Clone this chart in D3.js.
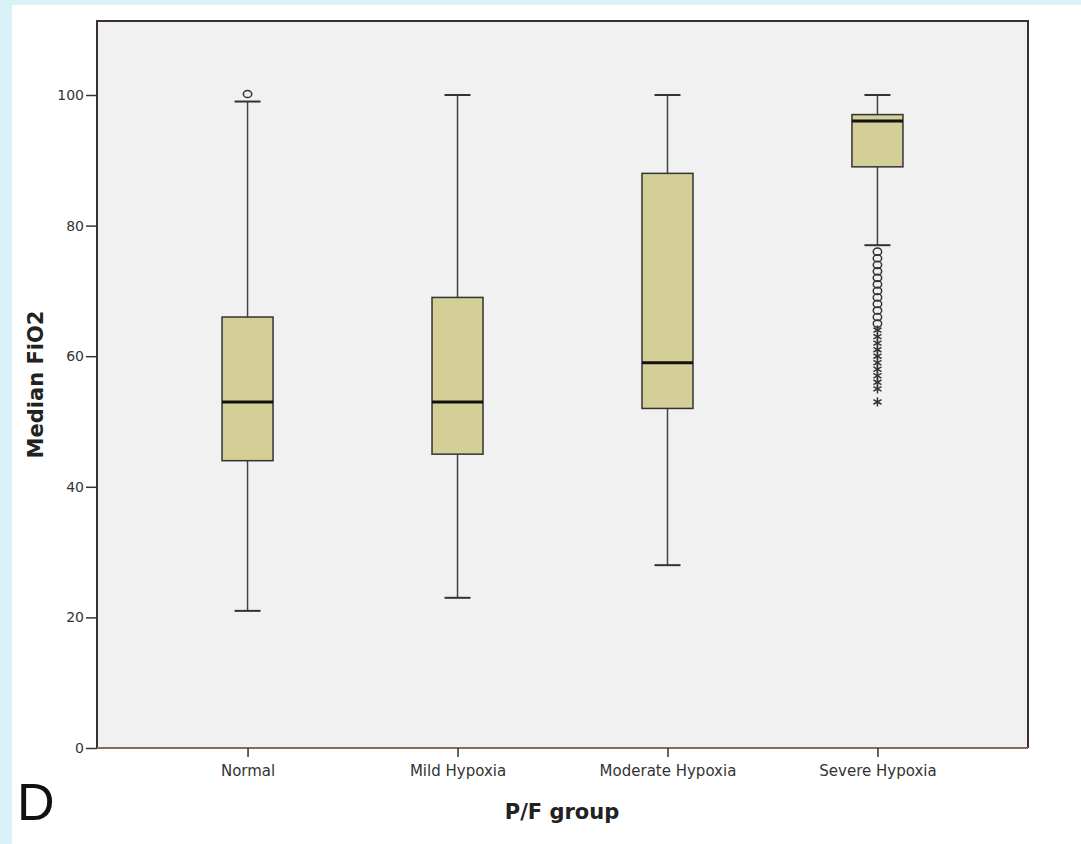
<!DOCTYPE html>
<html>
<head>
    <meta charset="utf-8" />
    <title>Median FiO2 by P/F group</title>
    <script src="https://cdn.jsdelivr.net/npm/d3@7"></script>
    <style>
        html, body {
            margin: 0;
            padding: 0;
            background-color: #d9f2f8;
        }
        svg { display: block; }
        .tick-label { font-family: "DejaVu Sans", sans-serif; font-size: 14px; fill: #333; }
        .cat-label { font-family: "DejaVu Sans", sans-serif; font-size: 15px; fill: #333; }
        .axis-title { font-family: "DejaVu Sans", sans-serif; font-size: 21px; font-weight: bold; fill: #222; }
    </style>
</head>
<body>
    <svg width="1081" height="844"></svg>

    <script>
        // categories and box values
        var groups = ["Normal", "Mild Hypoxia", "Moderate Hypoxia", "Severe Hypoxia"];
        var whiskerLow = [21, 23, 28, 77];
        var q1 = [44, 45, 52, 89];
        var median = [53, 53, 59, 96];
        var q3 = [66, 69, 88, 97];
        var whiskerHigh = [99, 100, 100, 100];

        // outliers: circles (mild) and stars (extreme)
        var circleOutliers = [
            ["Normal", 100],
            ["Severe Hypoxia", 76], ["Severe Hypoxia", 75], ["Severe Hypoxia", 74],
            ["Severe Hypoxia", 73], ["Severe Hypoxia", 72], ["Severe Hypoxia", 71],
            ["Severe Hypoxia", 70], ["Severe Hypoxia", 69], ["Severe Hypoxia", 68],
            ["Severe Hypoxia", 67], ["Severe Hypoxia", 66], ["Severe Hypoxia", 65]
        ];
        var starOutliers = [
            ["Severe Hypoxia", 64], ["Severe Hypoxia", 63], ["Severe Hypoxia", 62],
            ["Severe Hypoxia", 61], ["Severe Hypoxia", 60], ["Severe Hypoxia", 59],
            ["Severe Hypoxia", 58], ["Severe Hypoxia", 57], ["Severe Hypoxia", 56],
            ["Severe Hypoxia", 55], ["Severe Hypoxia", 53]
        ];
        var yTicks = [0, 20, 40, 60, 80, 100];

        var svg = d3.select("svg");

        // white panel
        svg.append("rect").attr("x", 12).attr("y", 5).attr("width", 1081 - 12).attr("height", 844 - 5)
            .attr("fill", "#ffffff");

        var plotL = 97, plotR = 1028, plotT = 21, plotB = 748;

        var x = d3.scalePoint().domain(groups).range([plotL, plotR]).padding(0.717);
        var y = d3.scaleLinear().domain([0, 100]).range([plotB, 95]);

        // plot area
        svg.append("rect").attr("x", plotL).attr("y", plotT)
            .attr("width", plotR - plotL).attr("height", plotB - plotT)
            .attr("fill", "#f1f1f1");
        svg.append("path")
            .attr("d", "M" + plotL + "," + plotB + "V" + plotT + "H" + plotR + "V" + plotB)
            .attr("fill", "none").attr("stroke", "#3a3030").attr("stroke-width", 2);
        svg.append("line").attr("x1", plotL).attr("x2", plotR).attr("y1", plotB).attr("y2", plotB)
            .attr("stroke", "#8a6860").attr("stroke-width", 2);

        // y axis
        var yAxis = d3.axisLeft(y).tickValues(yTicks).tickSize(11).tickPadding(2);
        var gy = svg.append("g").attr("transform", "translate(" + plotL + ",0)").call(yAxis);
        gy.select(".domain").remove();
        gy.selectAll(".tick line").attr("stroke", "#333").attr("stroke-width", 1.5);
        gy.selectAll(".tick text").attr("class", "tick-label").attr("font-family", null).attr("font-size", null);

        // x axis
        var xAxis = d3.axisBottom(x).tickSize(9).tickPadding(8);
        var gx = svg.append("g").attr("transform", "translate(0," + plotB + ")").call(xAxis);
        gx.select(".domain").remove();
        gx.selectAll(".tick line").attr("stroke", "#333").attr("stroke-width", 1.5);
        gx.selectAll(".tick text").attr("class", "cat-label").attr("font-family", null).attr("font-size", null);

        // boxes
        var boxW = 51, capW = 26;
        var data = groups.map(function (g, i) {
            return { g: g, lo: whiskerLow[i], q1: q1[i], med: median[i], q3: q3[i], hi: whiskerHigh[i] };
        });
        var box = svg.append("g").selectAll("g").data(data).enter().append("g");

        box.append("line").attr("class", "whisker")
            .attr("x1", function (d) { return x(d.g); }).attr("x2", function (d) { return x(d.g); })
            .attr("y1", function (d) { return y(d.lo); }).attr("y2", function (d) { return y(d.hi); })
            .attr("stroke", "#444").attr("stroke-width", 1.5);
        box.selectAll(".cap").data(function (d) { return [[d.g, d.lo], [d.g, d.hi]]; })
            .enter().append("line").attr("class", "cap")
            .attr("x1", function (d) { return x(d[0]) - capW / 2; })
            .attr("x2", function (d) { return x(d[0]) + capW / 2; })
            .attr("y1", function (d) { return y(d[1]); }).attr("y2", function (d) { return y(d[1]); })
            .attr("stroke", "#333").attr("stroke-width", 2);
        box.append("rect")
            .attr("x", function (d) { return x(d.g) - boxW / 2; })
            .attr("y", function (d) { return y(d.q3); })
            .attr("width", boxW)
            .attr("height", function (d) { return y(d.q1) - y(d.q3); })
            .attr("fill", "#d4cf97").attr("stroke", "#333").attr("stroke-width", 1.5);
        box.append("line")
            .attr("x1", function (d) { return x(d.g) - boxW / 2; })
            .attr("x2", function (d) { return x(d.g) + boxW / 2; })
            .attr("y1", function (d) { return y(d.med); }).attr("y2", function (d) { return y(d.med); })
            .attr("stroke", "#111").attr("stroke-width", 3);

        // outliers
        svg.append("g").selectAll("ellipse").data(circleOutliers).enter().append("ellipse")
            .attr("cx", function (d) { return x(d[0]); })
            .attr("cy", function (d) { return y(d[1]) - (d[1] === 100 ? 1 : 0); })
            .attr("rx", 4.2).attr("ry", 3.6)
            .attr("fill", "none").attr("stroke", "#333").attr("stroke-width", 1.5);

        var star = d3.symbol().type(d3.symbolAsterisk).size(60);
        svg.append("g").selectAll("path").data(starOutliers).enter().append("path")
            .attr("transform", function (d) { return "translate(" + x(d[0]) + "," + y(d[1]) + ")"; })
            .attr("d", star)
            .attr("fill", "none").attr("stroke", "#333").attr("stroke-width", 1.5);

        // titles
        svg.append("text").attr("class", "axis-title")
            .attr("transform", "translate(43," + (plotB + plotT) / 2 + ") rotate(-90)")
            .attr("text-anchor", "middle").text("Median FiO2");
        svg.append("text").attr("class", "axis-title")
            .attr("x", 562).attr("y", 819).attr("text-anchor", "middle").text("P/F group");
        svg.append("text")
            .attr("x", 17).attr("y", 820)
            .attr("font-family", "Liberation Sans, Arial, sans-serif").attr("font-size", 52)
            .attr("fill", "#111").text("D");
    </script>
</body>
</html>
